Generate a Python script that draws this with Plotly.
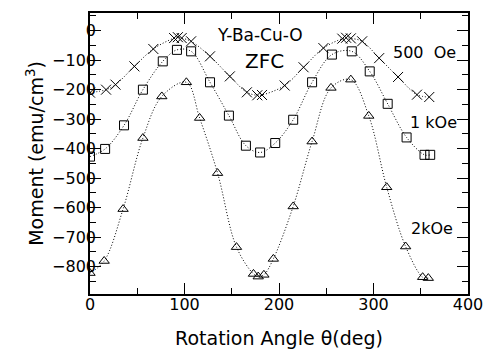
import plotly.graph_objects as go

# 500 Oe (crosses)
theta_500 = [0, 17, 27, 47, 67, 89, 93, 97, 107, 127, 148, 166, 177, 182, 206, 226, 247, 267, 271, 276, 288, 306, 326, 346, 359]
moment_500 = [-210, -200, -183, -121, -62, -25, -22, -25, -36, -87, -155, -209, -219, -218, -186, -124, -59, -27, -24, -26, -36, -93, -157, -217, -225]

# 1 kOe (squares)
theta_1k = [0, 16, 36, 56, 77, 92, 107, 127, 147, 165, 180, 196, 215, 235, 256, 277, 296, 315, 335, 354, 360]
moment_1k = [-427, -401, -321, -200, -104, -65, -70, -175, -288, -390, -413, -381, -302, -175, -81, -70, -138, -248, -362, -421, -421]

# 2 kOe (triangles)
theta_2k = [0, 15, 35, 56, 76, 102, 116, 135, 155, 173, 178, 184, 194, 215, 235, 255, 276, 295, 314, 334, 352, 358]
moment_2k = [-822, -781, -605, -364, -223, -175, -296, -483, -734, -825, -834, -828, -774, -596, -376, -194, -166, -289, -531, -732, -836, -839]

x_ticks = [0, 100, 200, 300, 400]
y_ticks = [0, -100, -200, -300, -400, -500, -600, -700, -800]

FONT = "DejaVu Sans"
fig = go.Figure()

series = [
    (theta_500, moment_500, "x-thin-open", 10),
    (theta_1k, moment_1k, "square-open", 9),
    (theta_2k, moment_2k, "triangle-up-open", 9),
]
for th, m, sym, sz in series:
    fig.add_trace(go.Scatter(
        x=th, y=m, mode="lines",
        line=dict(color="black", width=1, dash="1px,2px", shape="spline", smoothing=1.0),
        hoverinfo="skip", showlegend=False,
    ))
    fig.add_trace(go.Scatter(
        x=th, y=m, mode="markers",
        marker=dict(symbol=sym, size=sz, color="black", line=dict(color="black", width=1)),
        showlegend=False,
    ))

annotations = [
    ("Y-Ba-Cu-O", 180, -14, 17),
    ("ZFC", 184.5, -103, 20),
    ("500\u00a0\u00a0Oe", 353.7, -73, 16),
    ("1 kOe", 363.8, -312, 16),
    ("2kOe", 361.7, -672, 16),
]
for txt, ax_, ay_, fs in annotations:
    fig.add_annotation(x=ax_, y=ay_, xref="x", yref="y", text=txt, showarrow=False,
                       font=dict(family=FONT, size=fs, color="black"),
                       xanchor="center", yanchor="middle")

axis_common = dict(
    showgrid=False, zeroline=False, showline=True, linecolor="black", linewidth=1.5,
    mirror="ticks", ticks="inside", ticklen=11, tickwidth=1, tickcolor="black",
    tickfont=dict(family=FONT, size=16, color="black"),
    minor=dict(ticks="inside", ticklen=6, tickwidth=1, tickcolor="black", dtick=50),
    automargin=False,
)

fig.update_layout(
    width=484, height=349,
    margin=dict(l=90, r=16, t=13, b=55),
    paper_bgcolor="white", plot_bgcolor="white",
    font=dict(family=FONT, color="black"),
    xaxis=dict(range=[0, 400], tickvals=x_ticks, ticktext=[str(v) for v in x_ticks],
               ticklabelstandoff=-5,
               title=dict(text="Rotation Angle θ(deg)", font=dict(family=FONT, size=19), standoff=31),
               **axis_common),
    yaxis=dict(range=[-893, 60], tickvals=y_ticks, ticktext=["0"] + ["\u2212" + str(-v) for v in y_ticks[1:]],
               ticklabelstandoff=-11,
               title=dict(text="Moment (emu/cm<sup>3</sup>)", font=dict(family=FONT, size=19), standoff=3),
               **axis_common),
)

fig.write_html("out.html", config={"displayModeBar": False},
               post_script="document.body.style.margin='0';document.body.style.padding='0';")
